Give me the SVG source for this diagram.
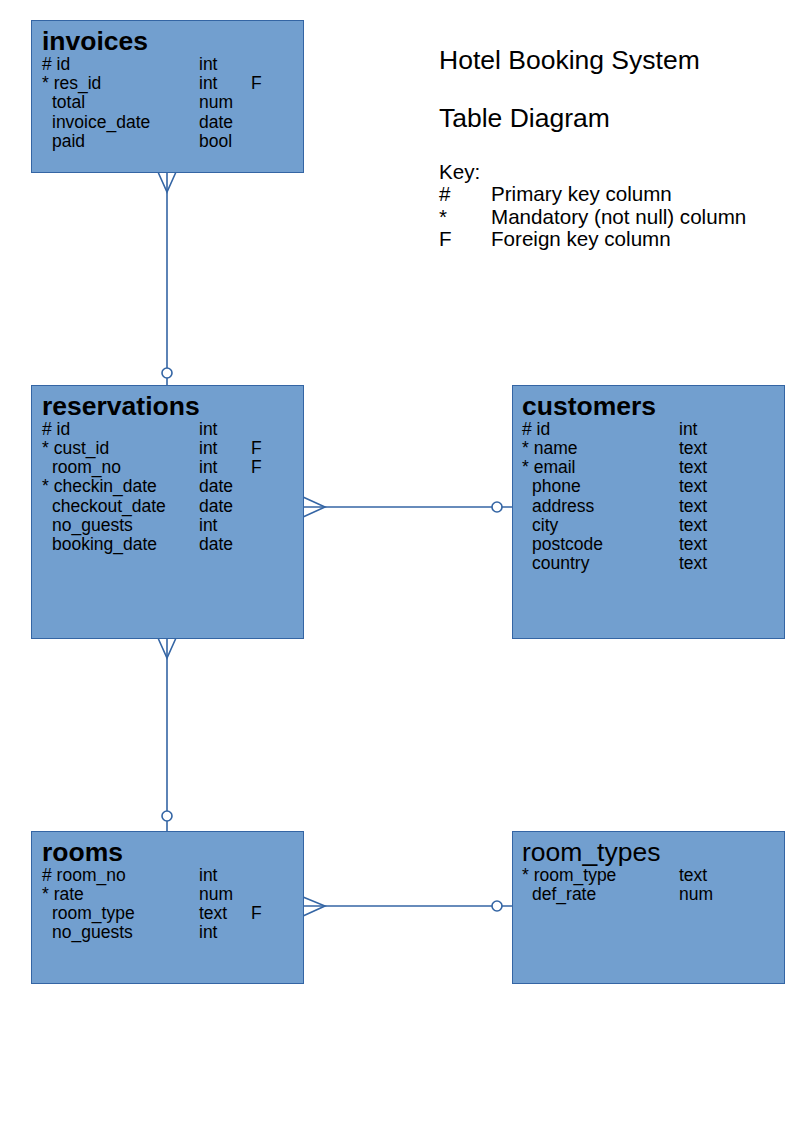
<svg xmlns="http://www.w3.org/2000/svg" width="794" height="1123" viewBox="0 0 794 1123">
<style>
.box{fill:#729fcf;stroke:#3465a4;stroke-width:1}
.t{font-family:"Liberation Sans",Arial,sans-serif;font-size:26.5px;font-weight:bold;fill:#000}
.tn{font-family:"Liberation Sans",Arial,sans-serif;font-size:26.5px;fill:#000}
.r{font-family:"Liberation Sans",Arial,sans-serif;font-size:17.5px;fill:#000}
.h{font-family:"Liberation Sans",Arial,sans-serif;font-size:26.5px;fill:#000}
.k{font-family:"Liberation Sans",Arial,sans-serif;font-size:20.6px;fill:#000}
.c{fill:none;stroke:#3465a4;stroke-width:1.6}
.o{fill:#fff;stroke:#3465a4;stroke-width:1.6}
</style>
<rect width="794" height="1123" fill="#fff"/>
<g id="connectors">
<line class="c" x1="167" y1="172" x2="167" y2="385"/>
<polyline class="c" points="158,172 167,192 176,172"/>
<circle class="o" cx="167" cy="373" r="5"/>
<line class="c" x1="303" y1="507" x2="512" y2="507"/>
<polyline class="c" points="303,497 325,507 303,517"/>
<circle class="o" cx="497" cy="507" r="5"/>
<line class="c" x1="167" y1="638" x2="167" y2="831"/>
<polyline class="c" points="158,638 167,658 176,638"/>
<circle class="o" cx="167" cy="816" r="5"/>
<line class="c" x1="303" y1="906" x2="512" y2="906"/>
<polyline class="c" points="303,897 325,906 303,916"/>
<circle class="o" cx="497" cy="906" r="5"/>
</g>
<g id="invoices">
<rect class="box" x="31.5" y="20.5" width="272" height="152"/>
<text class="t" x="42" y="50">invoices</text>
<text class="r" x="42" y="70"># id</text><text class="r" x="199" y="70">int</text>
<text class="r" x="42" y="89">* res_id</text><text class="r" x="199" y="89">int</text><text class="r" x="251" y="89">F</text>
<text class="r" x="52" y="108">total</text><text class="r" x="199" y="108">num</text>
<text class="r" x="52" y="128">invoice_date</text><text class="r" x="199" y="128">date</text>
<text class="r" x="52" y="147">paid</text><text class="r" x="199" y="147">bool</text>
</g>
<g id="reservations">
<rect class="box" x="31.5" y="385.5" width="272" height="253"/>
<text class="t" x="42" y="415">reservations</text>
<text class="r" x="42" y="435"># id</text><text class="r" x="199" y="435">int</text>
<text class="r" x="42" y="454">* cust_id</text><text class="r" x="199" y="454">int</text><text class="r" x="251" y="454">F</text>
<text class="r" x="52" y="473">room_no</text><text class="r" x="199" y="473">int</text><text class="r" x="251" y="473">F</text>
<text class="r" x="42" y="492">* checkin_date</text><text class="r" x="199" y="492">date</text>
<text class="r" x="52" y="512">checkout_date</text><text class="r" x="199" y="512">date</text>
<text class="r" x="52" y="531">no_guests</text><text class="r" x="199" y="531">int</text>
<text class="r" x="52" y="550">booking_date</text><text class="r" x="199" y="550">date</text>
</g>
<g id="customers">
<rect class="box" x="512.5" y="385.5" width="272" height="253"/>
<text class="t" x="522" y="415">customers</text>
<text class="r" x="522" y="435"># id</text><text class="r" x="679" y="435">int</text>
<text class="r" x="522" y="454">* name</text><text class="r" x="679" y="454">text</text>
<text class="r" x="522" y="473">* email</text><text class="r" x="679" y="473">text</text>
<text class="r" x="532" y="492">phone</text><text class="r" x="679" y="492">text</text>
<text class="r" x="532" y="512">address</text><text class="r" x="679" y="512">text</text>
<text class="r" x="532" y="531">city</text><text class="r" x="679" y="531">text</text>
<text class="r" x="532" y="550">postcode</text><text class="r" x="679" y="550">text</text>
<text class="r" x="532" y="569">country</text><text class="r" x="679" y="569">text</text>
</g>
<g id="rooms">
<rect class="box" x="31.5" y="831.5" width="272" height="152"/>
<text class="t" x="42" y="861">rooms</text>
<text class="r" x="42" y="881"># room_no</text><text class="r" x="199" y="881">int</text>
<text class="r" x="42" y="900">* rate</text><text class="r" x="199" y="900">num</text>
<text class="r" x="52" y="919">room_type</text><text class="r" x="199" y="919">text</text><text class="r" x="251" y="919">F</text>
<text class="r" x="52" y="938">no_guests</text><text class="r" x="199" y="938">int</text>
</g>
<g id="room_types">
<rect class="box" x="512.5" y="831.5" width="272" height="152"/>
<text class="tn" x="522" y="861">room_types</text>
<text class="r" x="522" y="881">* room_type</text><text class="r" x="679" y="881">text</text>
<text class="r" x="532" y="900">def_rate</text><text class="r" x="679" y="900">num</text>
</g>
<g id="title">
<text class="h" x="439" y="69">Hotel Booking System</text>
<text class="h" x="439" y="127">Table Diagram</text>
<text class="k" x="439" y="179">Key:</text>
<text class="k" x="439" y="201">#</text><text class="k" x="491" y="201">Primary key column</text>
<text class="k" x="439" y="224">*</text><text class="k" x="491" y="224">Mandatory (not null) column</text>
<text class="k" x="439" y="246">F</text><text class="k" x="491" y="246">Foreign key column</text>
</g>
</svg>
